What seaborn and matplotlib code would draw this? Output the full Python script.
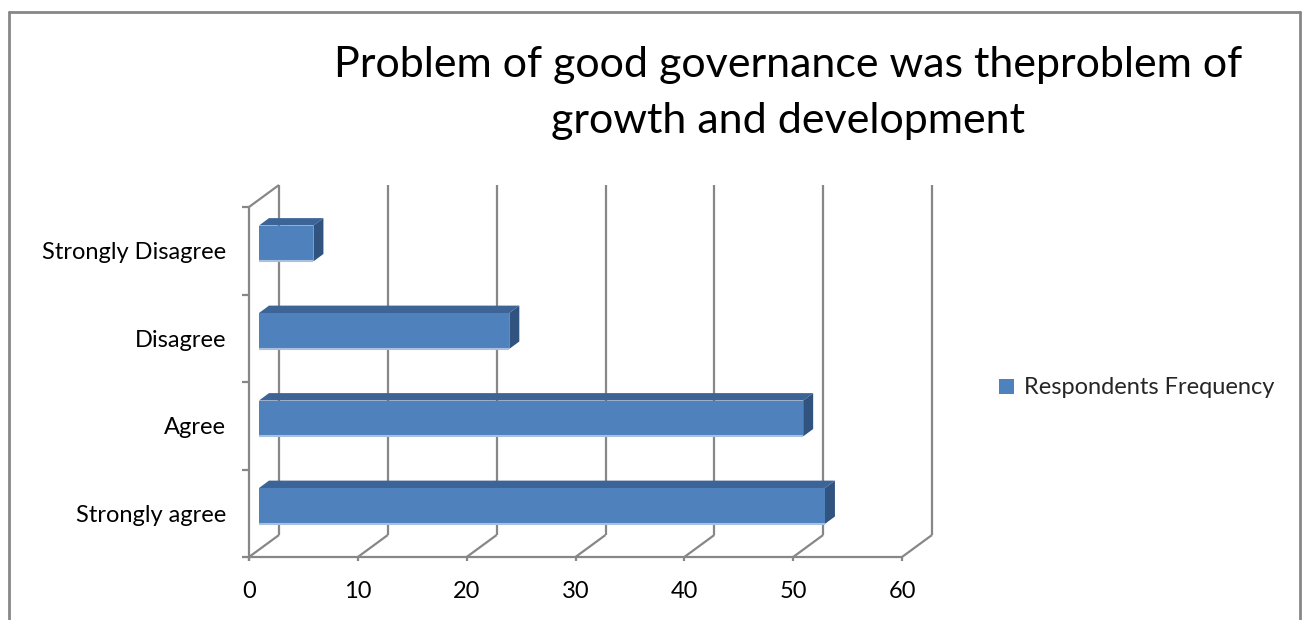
import pandas as pd
import seaborn as sns
import matplotlib
matplotlib.use("Agg")
import matplotlib.pyplot as plt
import matplotlib.transforms as mtransforms
from matplotlib.patches import Polygon
from matplotlib.lines import Line2D

# ---- data -------------------------------------------------------------
categories = ["Strongly Disagree", "Disagree", "Agree", "Strongly agree"]
frequency = [5, 23, 50, 52]
x_ticks = [0, 10, 20, 30, 40, 50, 60]
series_name = "Respondents Frequency"
title_lines = ["Problem of good governance was theproblem of",
               "growth and development"]

# ---- styling ----------------------------------------------------------
FRONT = "#4F81BD"
TOP = "#3C6496"
SIDE = "#31537F"
EDGE = "#A9C0DE"
GRID = "#878787"
DEPTH = (30, 22)        # back wall offset in pixels (right, up)
BAR_NEAR = (10, 7.3)    # bar front face offset in pixels
BAR_FAR = (20, 14.7)    # bar back face offset in pixels

sns.set_theme(style="white")
plt.rcParams["font.family"] = ["Lato", "DejaVu Sans"]

W, H = 1306, 620
fig = plt.figure(figsize=(W / 100, H / 100), dpi=100)
fig.patch.set_facecolor("white")
ax = fig.add_axes([249 / W, (H - 557) / H, 653 / W, 350 / H])

df = pd.DataFrame({"Category": categories, "Frequency": frequency})
sns.barplot(data=df, x="Frequency", y="Category", order=categories,
            color=FRONT, saturation=1, width=0.41, orient="h", ax=ax,
            label=series_name, zorder=3)
handles, labels = ax.get_legend_handles_labels()
if ax.get_legend() is not None:
    ax.get_legend().remove()

ax.set_xlim(0, 60)
ax.set_ylim(3.5, -0.5)
ax.set_facecolor("none")
ax.grid(False)
for s in ax.spines.values():
    s.set_visible(False)
ax.set_xlabel("")
ax.set_ylabel("")
ax.set_xticks(x_ticks)
ax.set_xticklabels([str(t) for t in x_ticks])
ax.tick_params(axis="x", length=0, pad=17, labelsize=17, labelcolor="black")
ax.tick_params(axis="y", length=0, pad=16.5, labelsize=17, labelcolor="black")

ident = mtransforms.IdentityTransform()


def px(x, y, off=(0, 0)):
    p = ax.transData.transform((x, y))
    return (p[0] + off[0], p[1] + off[1])


def add_line(p0, p1, color=GRID, lw=1.6, z=1):
    ax.add_line(Line2D([p0[0], p1[0]], [p0[1], p1[1]], color=color, lw=lw,
                       transform=ident, clip_on=False, zorder=z,
                       solid_capstyle="butt"))


# ---- 3-D frame: left wall, floor and back wall ------------------------
y_top, y_bot = -0.5, 3.5
add_line(px(0, y_top), px(0, y_bot, (0, -4)))
add_line(px(0, y_top), px(0, y_top, DEPTH))
for b in [-0.5, 0.5, 1.5, 2.5, 3.5]:
    add_line(px(0, b, (-7, 0)), px(0, b))
add_line(px(0, y_bot), px(60, y_bot))
for t in x_ticks:
    add_line(px(t, y_bot, (0, -4)), px(t, y_bot))
    add_line(px(t, y_bot), px(t, y_bot, DEPTH))
    add_line(px(t, y_bot, DEPTH), px(t, y_top, DEPTH))

# ---- 3-D bars: shift the front faces and add top / side faces ----------
shift = mtransforms.Affine2D().translate(*BAR_NEAR)
for bar in ax.patches:
    bar.set_transform(ax.transData + shift)
    bar.set_edgecolor("none")
    x0, x1 = bar.get_x(), bar.get_x() + bar.get_width()
    ya, yb = bar.get_y(), bar.get_y() + bar.get_height()
    top_y = min(ya, yb)   # inverted axis: smaller value is higher
    bot_y = max(ya, yb)
    top_face = [px(x0, top_y, BAR_NEAR), px(x1, top_y, BAR_NEAR),
                px(x1, top_y, BAR_FAR), px(x0, top_y, BAR_FAR)]
    side_face = [px(x1, top_y, BAR_NEAR), px(x1, top_y, BAR_FAR),
                 px(x1, bot_y, BAR_FAR), px(x1, bot_y, BAR_NEAR)]
    ax.add_patch(Polygon(top_face, closed=True, facecolor=TOP,
                         edgecolor="none", transform=ident, clip_on=False,
                         zorder=2.9))
    ax.add_patch(Polygon(side_face, closed=True, facecolor=SIDE,
                         edgecolor="none", transform=ident, clip_on=False,
                         zorder=2.9))
    add_line(px(x0, bot_y, BAR_NEAR), px(x1, bot_y, BAR_NEAR),
             color=EDGE, lw=1.5, z=3.1)

# ---- title, legend and chart border -----------------------------------
for line, baseline in zip(title_lines, [77, 133]):
    fig.text(788 / W, 1 - baseline / H, line, ha="center", va="baseline",
             fontsize=31, color="black")

fig.legend(handles, labels, loc="center left",
           bbox_to_anchor=(999 / W, 1 - 388 / H), frameon=False,
           fontsize=17, handlelength=0.62, handleheight=0.62,
           handletextpad=0.45, borderpad=0, borderaxespad=0)

for (xa, ya_), (xb, yb_) in [((9, 11.5), (1300, 11.5)),
                             ((9, 11.5), (9, 625)),
                             ((1300, 11.5), (1300, 625))]:
    fig.add_artist(Line2D([xa / W, xb / W], [1 - ya_ / H, 1 - yb_ / H],
                          transform=fig.transFigure, color=GRID, lw=2))

fig.savefig("out.png", dpi=100)
